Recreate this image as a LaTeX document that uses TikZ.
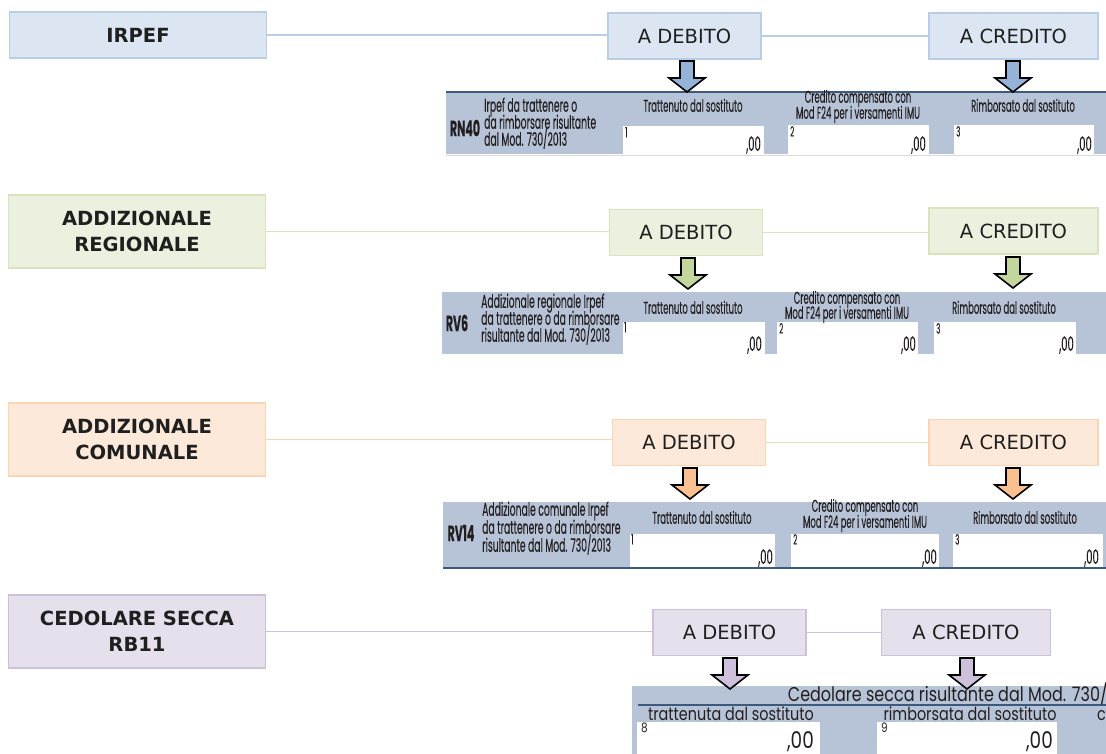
\documentclass[tikz,border=0pt]{standalone}
\usepackage{fontspec}
\setmainfont{DejaVu Sans}
\newfontfamily\fut[FakeStretch=0.5,FakeBold=0.2]{Poppins}
\newfontfamily\futh[FakeStretch=0.5,FakeBold=0.2]{Poppins}
\newfontfamily\futw[FakeStretch=0.8]{Poppins}
\usetikzlibrary{calc}
\definecolor{txt}{HTML}{1F1F1F}
\definecolor{ftxt}{HTML}{231F20}
\definecolor{formbg}{HTML}{B7C3D7}
\definecolor{formline}{HTML}{3B5A7E}
\definecolor{bfill}{HTML}{DCE6F2}\definecolor{bdraw}{HTML}{B9CDE5}\definecolor{barr}{HTML}{95B3D7}
\definecolor{gfill}{HTML}{EBF1DE}\definecolor{gdraw}{HTML}{D7E4BD}\definecolor{garr}{HTML}{C3D69B}
\definecolor{ofill}{HTML}{FDE9D9}\definecolor{odraw}{HTML}{FBD4B4}\definecolor{oarr}{HTML}{FAC090}
\definecolor{pfill}{HTML}{E5E0EC}\definecolor{pdraw}{HTML}{CCC1DA}\definecolor{parr}{HTML}{CCC0DA}
\newcommand{\barrow}[3]{%
  \draw[line width=1.6pt, fill=#1, line join=miter] (#2-7,#3) -- (#2+7,#3) -- (#2+7,#3+17) -- (#2+18,#3+17)
    -- (#2,#3+31) -- (#2-18,#3+17) -- (#2-7,#3+17) -- cycle;}
\begin{document}
\begin{tikzpicture}[x=1pt,y=-1pt,
  lbox/.style={line width=1.4pt, minimum width=257pt, inner sep=0pt, align=center, text=txt,
     font=\fontsize{19.5}{26}\selectfont\bfseries},
  tbox/.style={line width=1.4pt, minimum height=46pt, inner sep=0pt, text=txt,
     font=\fontsize{19.5}{23}\selectfont},
  deb/.style={tbox, minimum width=153pt},
  cred/.style={tbox, minimum width=169pt},
  conn/.style={line width=1.2pt},
  code/.style={font=\fut\fontsize{22}{22}\selectfont\bfseries, text=ftxt, inner sep=0pt},
  desc/.style={font=\fut\fontsize{18.5}{17}\selectfont, text=ftxt, inner sep=0pt, anchor=west,
     text height=8pt, text depth=2.5pt},
  hdr/.style={font=\futh\fontsize{17}{16}\selectfont, text=ftxt, inner sep=0pt, anchor=center,
     text height=8pt, text depth=2.5pt},
  num/.style={font=\futh\fontsize{14}{14}\selectfont, text=ftxt, inner sep=0pt, anchor=north west},
  zero/.style={font=\futh\fontsize{20}{20}\selectfont, text=ftxt, inner sep=0pt, anchor=base east},
]
\useasboundingbox (0,0) rectangle (1106,754);
\fill[white] (0,0) rectangle (1106,754);

% ---------------- Row 1: IRPEF ----------------
\node[lbox, draw=bdraw, fill=bfill, minimum height=46pt] (irpef) at (138,35) {IRPEF};
\node[deb, draw=bdraw, fill=bfill] (deb1) at (684.5,36) {A DEBITO};
\node[cred, draw=bdraw, fill=bfill] (cred1) at (1013.5,36) {A CREDITO};
\draw[conn, bdraw] (irpef.east) -- (irpef.east -| deb1.west);
\draw[conn, bdraw] (deb1.east) -- (cred1.west);
\fill[formbg] (446,92) rectangle (1106,154);
\draw[formline, line width=2.5pt] (446,92) -- (1106,92);
\draw[black!15, line width=0.8pt] (446,155) -- (1106,155);
\fill[white] (623,126) rectangle (764,154);
\fill[white] (788,125) rectangle (929,154);
\fill[white] (954,125) rectangle (1094,154);
\barrow{barr}{687}{61}
\barrow{barr}{1013}{61}
\node[code] (r1code) at (465,128) {RN40};
\node[desc] (r1d1) at (484,109) {Irpef da trattenere o};
\node[desc] (r1d2) at (484,126) {da rimborsare risultante};
\node[desc] (r1d3) at (484,143) {dal Mod. 730/2013};
\node[hdr] (r1h1) at (693,109) {Trattenuto dal sostituto};
\node[hdr] (r1h2a) at (858,100) {Credito compensato con};
\node[hdr] (r1h2b) at (858,116) {Mod F24 per i versamenti IMU};
\node[hdr] (r1h3) at (1023,109) {Rimborsato dal sostituto};
\node[num] (r1n1) at (625,127) {1};
\node[num] (r1n2) at (790,126) {2};
\node[num] (r1n3) at (956,126) {3};
\node[zero] (r1z1) at (761,151) {,00};
\node[zero] (r1z2) at (926,151) {,00};
\node[zero] (r1z3) at (1092,151) {,00};

% ---------------- Row 2: ADDIZIONALE REGIONALE ----------------
\node[lbox, draw=gdraw, fill=gfill, minimum height=73pt] (reg) at (137,231.5) {ADDIZIONALE\\REGIONALE};
\node[deb, draw=gdraw, fill=gfill] (deb2) at (686,232.5) {A DEBITO};
\node[cred, draw=gdraw, fill=gfill] (cred2) at (1013.5,231) {A CREDITO};
\draw[conn, gdraw] (reg.east) -- (reg.east -| deb2.west);
\draw[conn, gdraw] (deb2.east) -- (deb2.east -| cred2.west);
\fill[formbg] (442,292) rectangle (1106,354);
\fill[white] (623,322) rectangle (765,354);
\fill[white] (777,322) rectangle (918,354);
\fill[white] (934,322) rectangle (1076,354);
\barrow{garr}{688}{258}
\barrow{garr}{1013}{257}
\node[code] (r2code) at (457,323) {RV6};
\node[desc] (r2d1) at (481,305) {Addizionale regionale Irpef};
\node[desc] (r2d2) at (481,322) {da trattenere o da rimborsare};
\node[desc] (r2d3) at (481,339) {risultante dal Mod. 730/2013};
\node[hdr] (r2h1) at (693,311) {Trattenuto dal sostituto};
\node[hdr] (r2h2a) at (847,301) {Credito compensato con};
\node[hdr] (r2h2b) at (847,316) {Mod F24 per i versamenti IMU};
\node[hdr] (r2h3) at (1004,311) {Rimborsato dal sostituto};
\node[num] (r2n1) at (624,322) {1};
\node[num] (r2n2) at (779,323) {2};
\node[num] (r2n3) at (936,323) {3};
\node[zero] (r2z1) at (762,351) {,00};
\node[zero] (r2z2) at (916,351) {,00};
\node[zero] (r2z3) at (1074,351) {,00};

% ---------------- Row 3: ADDIZIONALE COMUNALE ----------------
\node[lbox, draw=odraw, fill=ofill, minimum height=73pt] (com) at (137,439.5) {ADDIZIONALE\\COMUNALE};
\node[deb, draw=odraw, fill=ofill] (deb3) at (689,442.5) {A DEBITO};
\node[cred, draw=odraw, fill=ofill] (cred3) at (1013.5,442.5) {A CREDITO};
\draw[conn, odraw] (com.east) -- (com.east -| deb3.west);
\draw[conn, odraw] (deb3.east) -- (cred3.west);
\fill[formbg] (443,502) rectangle (1106,568);
\draw[formline, line width=2pt] (443,568) -- (1106,568);
\fill[white] (630,534) rectangle (775,567);
\fill[white] (791,534) rectangle (939,567);
\fill[white] (953,534) rectangle (1103,567);
\barrow{oarr}{690}{468}
\barrow{oarr}{1013}{468}
\node[code] (r3code) at (461,533) {RV14};
\node[desc] (r3d1) at (482,513) {Addizionale comunale Irpef};
\node[desc] (r3d2) at (482,531) {da trattenere o da rimborsare};
\node[desc] (r3d3) at (482,549) {risultante dal Mod. 730/2013};
\node[hdr] (r3h1) at (702,521) {Trattenuto dal sostituto};
\node[hdr] (r3h2a) at (865,509) {Credito compensato con};
\node[hdr] (r3h2b) at (865,525) {Mod F24 per i versamenti IMU};
\node[hdr] (r3h3) at (1025,521) {Rimborsato dal sostituto};
\node[num] (r3n1) at (631,534) {1};
\node[num] (r3n2) at (793,534) {2};
\node[num] (r3n3) at (955,534) {3};
\node[zero] (r3z1) at (773,564) {,00};
\node[zero] (r3z2) at (937,564) {,00};
\node[zero] (r3z3) at (1099,564) {,00};

% ---------------- Row 4: CEDOLARE SECCA ----------------
\node[lbox, draw=pdraw, fill=pfill, minimum height=73pt] (ced) at (137,631.5) {CEDOLARE SECCA\\RB11};
\node[deb, draw=pdraw, fill=pfill] (deb4) at (729.5,632.5) {A DEBITO};
\node[cred, draw=pdraw, fill=pfill] (cred4) at (966,632.5) {A CREDITO};
\draw[conn, pdraw] (ced.east) -- (ced.east -| deb4.west);
\draw[conn, pdraw] (deb4.east) -- (cred4.west);
\fill[formbg] (632,686) rectangle (1106,754);
\draw[formline, line width=2pt] (638,705) -- (1106,705);
\fill[white] (637,722) rectangle (820,754);
\fill[white] (877,722) rectangle (1057,754);
\barrow{parr}{730}{658}
\barrow{parr}{967}{658}
\node[font=\futw\fontsize{20}{20}\selectfont, text=ftxt, inner sep=0pt, anchor=base east] (r4t) at (1108,701) {Cedolare secca risultante dal Mod. 730/};
\node[font=\futw\fontsize{18}{18}\selectfont, text=ftxt, inner sep=0pt, anchor=base] (r4h1) at (731,720) {trattenuta dal sostituto};
\node[font=\futw\fontsize{18}{18}\selectfont, text=ftxt, inner sep=0pt, anchor=base] (r4h2) at (970,720) {rimborsata dal sostituto};
\node[font=\futw\fontsize{18}{18}\selectfont, text=ftxt, inner sep=0pt, anchor=base west] (r4h3) at (1097,720) {c};
\node[font=\futw\fontsize{13}{13}\selectfont, text=ftxt, inner sep=0pt, anchor=north west] (r4n1) at (641,723) {8};
\node[font=\futw\fontsize{13}{13}\selectfont, text=ftxt, inner sep=0pt, anchor=north west] (r4n2) at (881,723) {9};
\node[font=\futw\fontsize{23}{23}\selectfont, text=ftxt, inner sep=0pt, anchor=base east, text depth=0pt] (r4z1) at (814,748) {,00};
\node[font=\futw\fontsize{23}{23}\selectfont, text=ftxt, inner sep=0pt, anchor=base east, text depth=0pt] (r4z2) at (1053,748) {,00};
\end{tikzpicture}
\end{document}
